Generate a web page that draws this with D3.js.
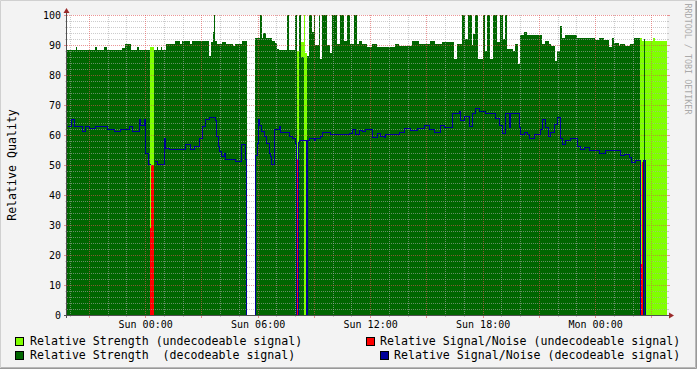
<!DOCTYPE html>
<meta charset="utf-8">
<style>
  body { margin: 0; background: #f3f3f3; }
  svg text { font-family: "DejaVu Sans Mono", monospace; }
</style>
<body>
<script src="https://d3js.org/d3.v7.min.js"></script>
<script>
// [minutes after window start (Sat 19:50), value]
var strengthDecoded = [[0,88.3],[28.8,89.3],[32,88.3],[89.6,89.3],[96,88.3],[118.4,89.3],[128,88.3],[176,88.9],[185.6,90.3],[204.8,88.3],
  [224,89.3],[230.4,88.3],[265.6,0],[278.4,88.3],[288,89.3],[291.2,88.3],[300.8,89.3],[304,88.3],[316.8,90.3],[345.6,91.2],
  [361.6,90.3],[368,91.2],[393.6,90.3],[400,91.2],[454.4,86.4],[460.8,91],[467.2,94.4],[470.4,100],[473.6,91.4],[480,90.3],
  [496,90.9],[508.8,90.3],[531.2,89.6],[537.6,90.3],[560,91.4],[576,0],[601.6,92.2],[617.6,100],[623,92.2],[627.2,94],
  [636.8,92.2],[656,91.4],[665.6,90.6],[672,88.8],[676.8,88.3],[704,100],[711.4,88.3],[729.6,100],[736,0],[743.4,100],
  [748.8,86],[758.4,0],[767,86.4],[773.4,100],[784,94.2],[789.4,100],[794.6,90],[805.4,100],[810.6,85.3],[816,100],
  [832,90],[842.6,87.5],[848,100],[864,90.3],[874.6,100],[885.4,91.2],[896,100],[906.6,90.3],[917.4,100],[928,90.3],
  [933.4,91.2],[944,90.3],[960,89.5],[976,90.3],[992,89.5],[1049.6,90.3],[1062.4,89.6],[1104,91.2],[1126.4,90.3],[1161.6,91.2],
  [1177.6,90.3],[1200,91],[1238.4,85.3],[1248,90.3],[1264,100],[1273.6,92],[1284.2,100],[1295,90],[1300.2,93.6],[1305.6,100],
  [1316.2,85.3],[1332.2,100],[1337.6,88],[1343,100],[1353.6,85.3],[1364.2,100],[1375,90.9],[1385.6,100],[1396.2,92],[1401.6,100],
  [1407,88.6],[1428.2,88],[1434.6,90.3],[1443.2,83.6],[1450.6,93.3],[1461.4,94.2],[1472,93.3],[1520,90.3],[1530.6,91.3],[1541.4,90.3],
  [1549.8,89.6],[1562.6,84.8],[1568,88],[1578.6,96.4],[1584,92.2],[1594.6,93.3],[1632,92.2],[1690.6,91.5],[1701.4,92.2],[1717.4,91.5],
  [1733.4,89.5],[1744,92.2],[1749.4,90.7],[1765.4,89.6],[1770.6,90.3],[1786.6,89.6],[1802.6,90.3],[1813.4,92.2],[1833.6,0],[1846.4,92],
  [1849.6,0]];

var strengthUndecoded = [[0,0],[265.6,89.4],[278.4,0],[736,88],[743.4,91],[758.4,100],[761.6,87.5],[767,0],
  [1833.6,92.2],[1841,91.4],[1875,92.2],[1880,91.4]];

var snUndecoded = [[0,0],[265.6,29],[268.8,50],[278.4,0],[736,52],[739.2,0],[1833.6,17],[1839,51],[1843,0]];

// null = no value
var snDecoded = [[0,63],[13.8,65.2],[21.4,63],[48,61.3],[58.6,63],[69.4,62.3],[90.6,63],[128,62],[150.4,61.3],[169.6,62],
  [197.4,63],[208,61.3],[229.4,65.2],[234.6,63.5],[245.4,65.2],[250.6,54],[259.2,50.2],[265.6,null],[278.4,51.3],[288,50.5],
  [309.4,59],[314.6,55.7],[325.4,55.2],[378.6,56.9],[394.6,55.2],[405.4,56.5],[421.4,59],[432,63],[442.6,65.2],[453.4,66],
  [472.6,65],[476.8,59.6],[483.2,56.3],[487.4,54.6],[493.8,53],[501.4,54],[506.6,52],[536.6,51.2],[557.8,57.1],[568.6,52],
  [573.8,0],[600.6,53.2],[608,57.4],[611.2,65.2],[615.4,63.5],[621.8,61.3],[629.4,59.6],[636.8,57.4],[645.4,54],[650.6,53],
  [653.8,50.2],[661.4,62.1],[677.4,63],[682.6,61.1],[709.4,59.6],[720,59],[728.6,57.4],[732.8,0],[740.2,57.6],[743.4,58.2],
  [764.8,0],[768,58.2],[773.4,59],[789.4,58.4],[794.6,59],[810.6,59.7],[816,61.1],[842.6,60.5],[853.4,60.3],[901.4,60.8],
  [912,62],[922.6,60.3],[933.4,61.8],[944,61.3],[952.6,62],[976,59.3],[992,60.8],[1002.6,59.8],[1013.4,59.3],[1018.6,60.3],
  [1061.4,61.1],[1077.4,62.4],[1098.6,61.8],[1120,62.4],[1141.4,63.5],[1157.4,62],[1173.4,61.1],[1194.6,63.5],[1205.4,62.7],[1232,67.2],
  [1253.4,68],[1258.6,65],[1269.4,66.2],[1285.4,63.1],[1296,67.2],[1306.6,69.1],[1317.4,68],[1338.6,67.2],[1370.6,65.8],[1381.4,63.5],
  [1392,60.8],[1402.6,67.2],[1413.4,62.6],[1418.6,67.2],[1445.4,62.6],[1450.6,60.3],[1461.4,61],[1472,60.3],[1477.4,59],[1493.4,60.3],
  [1514.6,62],[1520,65.2],[1530.6,62.6],[1539.2,59.7],[1546.6,61],[1557.4,63.8],[1568,66],[1576.6,59],[1584,56.9],[1594.6,58.4],
  [1610.6,59],[1632,56.3],[1642.6,55.2],[1653.4,56],[1669.4,55],[1701.4,54],[1722.6,55],[1770.6,53.2],[1781.4,53.8],[1797.4,52.8],
  [1805.8,51],[1818.6,51.6],[1833.6,0],[1844.2,51.8],[1849.6,0]];

var legendItems = [
  {label: "Relative Strength (undecodeable signal)", color: "#80ff00"},
  {label: "Relative Signal/Noise (undecodeable signal)", color: "#ff0000"},
  {label: "Relative Strength  (decodeable signal)", color: "#006600"},
  {label: "Relative Signal/Noise (decodeable signal)", color: "#000099"}
];
var yTicks = [0, 10, 20, 30, 40, 50, 60, 70, 80, 90, 100];

var W = 697, H = 369;
var plot = {left: 67, right: 667, top: 15, bottom: 315};
var start = new Date(2011, 0, 1, 19, 50),
    end = new Date(2011, 0, 3, 3, 50);

var x = d3.scaleTime().domain([start, end]).range([plot.left, plot.right]);
var y = d3.scaleLinear().domain([0, 100]).range([plot.bottom, plot.top]);

function points(series) {
  var pts = [];
  series.forEach(function(d, i) {
    var t = new Date(+start + d[0] * 60000);
    // close the previous step before a gap
    if (d[1] === null && i > 0) pts.push({t: t, v: series[i - 1][1]});
    pts.push({t: t, v: d[1]});
  });
  pts.push({t: end, v: series[series.length - 1][1]});
  return pts;
}

var svg = d3.select("body").append("svg")
    .attr("width", W).attr("height", H);

// frame
svg.append("rect").attr("width", W).attr("height", H).attr("fill", "#f3f3f3");
svg.append("path").attr("d", "M0,368.5H696.5V0").attr("fill", "none").attr("stroke", "#999").attr("stroke-width", 1);
svg.append("path").attr("d", "M0,367.5H695.5V0").attr("fill", "none").attr("stroke", "#b8b8b8").attr("stroke-width", 1);
svg.append("path").attr("d", "M0.5,368V0.5H697").attr("fill", "none").attr("stroke", "#d0d0d0").attr("stroke-width", 1);

// canvas
svg.append("rect")
    .attr("x", plot.left).attr("y", plot.top)
    .attr("width", plot.right - plot.left).attr("height", plot.bottom - plot.top)
    .attr("fill", "#fff");

var area = d3.area().curve(d3.curveStepAfter)
    .x(function(d) { return Math.round(x(d.t)); })
    .y0(y(0))
    .y1(function(d) { return Math.round(y(d.v)); });

var g = svg.append("g").attr("shape-rendering", "crispEdges");
g.append("path").attr("d", area(points(strengthUndecoded))).attr("fill", "#80ff00");
g.append("path").attr("d", area(points(snUndecoded))).attr("fill", "#ff0000");
g.append("path").attr("d", area(points(strengthDecoded))).attr("fill", "#006600");

// grid
var grid = svg.append("g").attr("shape-rendering", "crispEdges");
var minorCol = "rgba(170,170,170,0.6)", majorCol = "rgba(222,80,80,0.6)";
d3.range(2, 100, 2).filter(function(v) { return v % 10 !== 0; }).forEach(function(v) {
  grid.append("line").attr("x1", plot.left).attr("x2", plot.right)
      .attr("y1", y(v) + 0.5).attr("y2", y(v) + 0.5)
      .attr("stroke", minorCol).attr("stroke-dasharray", "1,1");
  grid.append("line").attr("x1", plot.left - 2).attr("x2", plot.left)
      .attr("y1", y(v) + 0.5).attr("y2", y(v) + 0.5).attr("stroke", minorCol);
  grid.append("line").attr("x1", plot.right).attr("x2", plot.right + 2)
      .attr("y1", y(v) + 0.5).attr("y2", y(v) + 0.5).attr("stroke", minorCol);
});
var hours = d3.timeHour.every(1).range(start, end);
hours.filter(function(t) { return t.getHours() % 3 !== 0; }).forEach(function(t) {
  var xx = Math.round(x(t)) + 0.5;
  grid.append("line").attr("x1", xx).attr("x2", xx).attr("y1", plot.top).attr("y2", plot.bottom)
      .attr("stroke", minorCol).attr("stroke-dasharray", "1,1");
  grid.append("line").attr("x1", xx).attr("x2", xx).attr("y1", plot.bottom).attr("y2", plot.bottom + 2)
      .attr("stroke", minorCol);
});
yTicks.slice(1).forEach(function(v) {
  grid.append("line").attr("x1", plot.left).attr("x2", plot.right)
      .attr("y1", y(v) + 0.5).attr("y2", y(v) + 0.5)
      .attr("stroke", majorCol).attr("stroke-dasharray", "1,1");
  grid.append("line").attr("x1", plot.left - 3).attr("x2", plot.left)
      .attr("y1", y(v) + 0.5).attr("y2", y(v) + 0.5).attr("stroke", majorCol);
  grid.append("line").attr("x1", plot.right).attr("x2", plot.right + 3)
      .attr("y1", y(v) + 0.5).attr("y2", y(v) + 0.5).attr("stroke", majorCol);
});
hours.filter(function(t) { return t.getHours() % 3 === 0; }).forEach(function(t) {
  var xx = Math.round(x(t)) + 0.5;
  grid.append("line").attr("x1", xx).attr("x2", xx).attr("y1", plot.top).attr("y2", plot.bottom)
      .attr("stroke", majorCol).attr("stroke-dasharray", "1,1");
  grid.append("line").attr("x1", xx).attr("x2", xx).attr("y1", plot.bottom).attr("y2", plot.bottom + 3)
      .attr("stroke", majorCol);
});

// S/N line of decodeable signal
var line = d3.line().curve(d3.curveStepAfter)
    .defined(function(d) { return d.v !== null; })
    .x(function(d) { return Math.round(x(d.t)) + 0.5; })
    .y(function(d) { return Math.round(y(d.v)) + 0.5; });
svg.append("path").attr("d", line(points(snDecoded)))
    .attr("fill", "none").attr("stroke", "#000099").attr("stroke-width", 1)
    .attr("shape-rendering", "crispEdges");

// axes
var axisCol = "#505050", arrowCol = "#9a2a2a";
svg.append("line").attr("x1", plot.left - 3).attr("x2", plot.right + 3)
    .attr("y1", plot.bottom + 0.5).attr("y2", plot.bottom + 0.5)
    .attr("stroke", axisCol).attr("shape-rendering", "crispEdges");
svg.append("line").attr("x1", plot.left - 0.5).attr("x2", plot.left - 0.5)
    .attr("y1", plot.bottom + 3).attr("y2", plot.top - 4)
    .attr("stroke", axisCol).attr("shape-rendering", "crispEdges");
svg.append("path").attr("d", "M669,312.5L674,315.5L669,318.5Z").attr("fill", arrowCol);
svg.append("path").attr("d", "M63.5,13L66.5,8L69.5,13Z").attr("fill", arrowCol);

// tick labels
svg.append("g").selectAll("text").data(yTicks).enter().append("text")
    .attr("x", 61).attr("y", function(d) { return y(d) + 4; })
    .attr("text-anchor", "end").attr("font-size", "10px").attr("fill", "#000")
    .text(function(d) { return d; });
var fmt = d3.timeFormat("%a %H:%M");
svg.append("g").selectAll("text").data(d3.timeHour.every(6).range(start, end)).enter().append("text")
    .attr("x", function(d) { return x(d) + 0.5; }).attr("y", 328)
    .attr("text-anchor", "middle").attr("font-size", "10px").attr("fill", "#000")
    .text(fmt);

// axis title
svg.append("text")
    .attr("transform", "translate(16,165) rotate(-90)")
    .attr("text-anchor", "middle").attr("font-size", "11.6px").attr("fill", "#000")
    .text("Relative Quality");

// watermark
svg.append("text")
    .attr("transform", "translate(685,59) rotate(90)")
    .attr("text-anchor", "middle").attr("font-size", "8.4px").attr("fill", "#aaaaaa")
    .text("RRDTOOL / TOBI OETIKER");

// legend
var legendPos = [[15, 337, 30, 345], [366, 337, 380, 345], [15, 351, 30, 359], [380, 351, 394, 359]];
legendItems.forEach(function(item, i) {
  var p = legendPos[i];
  svg.append("rect").attr("x", p[0] + 0.5).attr("y", p[1] + 0.5).attr("width", 8).attr("height", 8)
      .attr("fill", item.color).attr("stroke", "#000").attr("shape-rendering", "crispEdges");
  svg.append("text").attr("x", p[2]).attr("y", p[3])
      .attr("font-size", "11.6px").attr("fill", "#000")
      .style("white-space", "pre")
      .text(item.label);
});
</script>
</body>
